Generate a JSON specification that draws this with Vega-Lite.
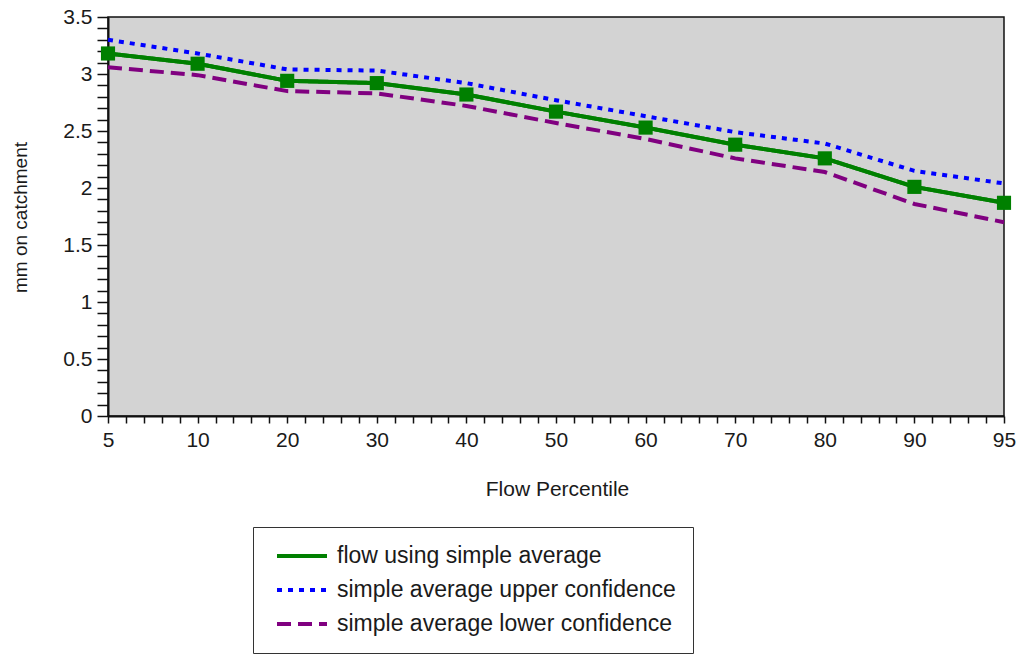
{
  "$schema": "https://vega.github.io/schema/vega-lite/v6.json",
  "autosize": "none",
  "width": 896,
  "height": 399,
  "padding": {"left": 108, "top": 17, "right": 19, "bottom": 238},
  "background": "white",
  "config": {
    "font": "Liberation Sans",
    "view": {"fill": "#d3d3d3", "stroke": "#111", "strokeWidth": 1.5},
    "axis": {
      "grid": false,
      "domainColor": "#111",
      "domainWidth": 2,
      "tickColor": "#111",
      "tickWidth": 1.5,
      "labelFont": "Liberation Sans",
      "labelColor": "#1a1a1a",
      "labelFontSize": 21,
      "titleFont": "Liberation Sans",
      "titleFontWeight": "normal",
      "titleColor": "#1a1a1a",
      "labelOverlap": false,
      "labelBound": false,
      "labelFlush": false
    },
    "legend": {
      "orient": "none",
      "legendX": 145,
      "legendY": 510,
      "strokeColor": "#333",
      "fillColor": "white",
      "padding": 17,
      "labelFont": "Liberation Sans",
      "labelFontSize": 23,
      "labelColor": "#1a1a1a",
      "labelLimit": 600,
      "labelOffset": 43,
      "symbolType": "M-0.5,0H4.5",
      "symbolSize": 400,
      "symbolStrokeWidth": 4,
      "rowPadding": 10
    }
  },
  "data": {
    "values": [
      {"idx": 0, "pct": 5, "series": "flow using simple average", "value": 3.18},
      {"idx": 1, "pct": 10, "series": "flow using simple average", "value": 3.09},
      {"idx": 2, "pct": 20, "series": "flow using simple average", "value": 2.94},
      {"idx": 3, "pct": 30, "series": "flow using simple average", "value": 2.92},
      {"idx": 4, "pct": 40, "series": "flow using simple average", "value": 2.82},
      {"idx": 5, "pct": 50, "series": "flow using simple average", "value": 2.67},
      {"idx": 6, "pct": 60, "series": "flow using simple average", "value": 2.53},
      {"idx": 7, "pct": 70, "series": "flow using simple average", "value": 2.38},
      {"idx": 8, "pct": 80, "series": "flow using simple average", "value": 2.26},
      {"idx": 9, "pct": 90, "series": "flow using simple average", "value": 2.01},
      {"idx": 10, "pct": 95, "series": "flow using simple average", "value": 1.87},
      {"idx": 0, "pct": 5, "series": "simple average upper confidence", "value": 3.30},
      {"idx": 1, "pct": 10, "series": "simple average upper confidence", "value": 3.18},
      {"idx": 2, "pct": 20, "series": "simple average upper confidence", "value": 3.04},
      {"idx": 3, "pct": 30, "series": "simple average upper confidence", "value": 3.03},
      {"idx": 4, "pct": 40, "series": "simple average upper confidence", "value": 2.92},
      {"idx": 5, "pct": 50, "series": "simple average upper confidence", "value": 2.77},
      {"idx": 6, "pct": 60, "series": "simple average upper confidence", "value": 2.63},
      {"idx": 7, "pct": 70, "series": "simple average upper confidence", "value": 2.49},
      {"idx": 8, "pct": 80, "series": "simple average upper confidence", "value": 2.39},
      {"idx": 9, "pct": 90, "series": "simple average upper confidence", "value": 2.15},
      {"idx": 10, "pct": 95, "series": "simple average upper confidence", "value": 2.04},
      {"idx": 0, "pct": 5, "series": "simple average lower confidence", "value": 3.06},
      {"idx": 1, "pct": 10, "series": "simple average lower confidence", "value": 2.99},
      {"idx": 2, "pct": 20, "series": "simple average lower confidence", "value": 2.85},
      {"idx": 3, "pct": 30, "series": "simple average lower confidence", "value": 2.83},
      {"idx": 4, "pct": 40, "series": "simple average lower confidence", "value": 2.72},
      {"idx": 5, "pct": 50, "series": "simple average lower confidence", "value": 2.57},
      {"idx": 6, "pct": 60, "series": "simple average lower confidence", "value": 2.43},
      {"idx": 7, "pct": 70, "series": "simple average lower confidence", "value": 2.26},
      {"idx": 8, "pct": 80, "series": "simple average lower confidence", "value": 2.14},
      {"idx": 9, "pct": 90, "series": "simple average lower confidence", "value": 1.86},
      {"idx": 10, "pct": 95, "series": "simple average lower confidence", "value": 1.70}
    ]
  },
  "encoding": {
    "x": {
      "field": "idx",
      "type": "quantitative",
      "scale": {"domain": [0, 10], "nice": false, "zero": false},
      "axis": {
        "title": "Flow Percentile",
        "titleFontSize": 21,
        "titleX": 449,
        "titleY": 73,
        "titleBaseline": "middle",
        "titleAlign": "center",
        "tickSize": 7,
        "labelPadding": 6,
        "values": [0, 0.2, 0.4, 0.6, 0.8, 1, 1.2, 1.4, 1.6, 1.8, 2, 2.2, 2.4, 2.6, 2.8, 3, 3.2, 3.4, 3.6, 3.8, 4, 4.2, 4.4, 4.6, 4.8, 5, 5.2, 5.4, 5.6, 5.8, 6, 6.2, 6.4, 6.6, 6.8, 7, 7.2, 7.4, 7.6, 7.8, 8, 8.2, 8.4, 8.6, 8.8, 9, 9.2, 9.4, 9.6, 9.8, 10],
        "labelExpr": "datum.value % 1 == 0 ? ['5','10','20','30','40','50','60','70','80','90','95'][datum.value] : ''"
      }
    },
    "y": {
      "field": "value",
      "type": "quantitative",
      "scale": {"domain": [0, 3.5], "nice": false, "zero": true},
      "axis": {
        "title": "mm on catchment",
        "titleFontSize": 19,
        "titleX": -88,
        "titleY": 200,
        "titleBaseline": "middle",
        "titleAlign": "center",
        "tickSize": 11,
        "labelPadding": 5,
        "values": [0, 0.1, 0.2, 0.3, 0.4, 0.5, 0.6, 0.7, 0.8, 0.9, 1, 1.1, 1.2, 1.3, 1.4, 1.5, 1.6, 1.7, 1.8, 1.9, 2, 2.1, 2.2, 2.3, 2.4, 2.5, 2.6, 2.7, 2.8, 2.9, 3, 3.1, 3.2, 3.3, 3.4, 3.5],
        "labelExpr": "round(datum.value * 10) % 5 == 0 ? format(datum.value, '~g') : ''"
      }
    }
  },
  "layer": [
    {
      "mark": {"type": "line", "strokeWidth": 4},
      "encoding": {
        "color": {
          "field": "series",
          "type": "nominal",
          "title": null,
          "scale": {
            "domain": ["flow using simple average", "simple average upper confidence", "simple average lower confidence"],
            "range": ["#008000", "#0000ff", "#800080"]
          }
        },
        "strokeDash": {
          "field": "series",
          "type": "nominal",
          "title": null,
          "scale": {
            "domain": ["flow using simple average", "simple average upper confidence", "simple average lower confidence"],
            "range": [[1, 0], [5, 6], [14, 7]]
          }
        }
      }
    },
    {
      "transform": [{"filter": "datum.series == 'flow using simple average'"}],
      "mark": {"type": "line", "strokeWidth": 4, "color": "#008000"},
      "encoding": {}
    },
    {
      "transform": [{"filter": "datum.series == 'flow using simple average'"}],
      "mark": {"type": "point", "shape": "square", "filled": true, "size": 200, "color": "#008000", "opacity": 1},
      "encoding": {}
    }
  ]
}
